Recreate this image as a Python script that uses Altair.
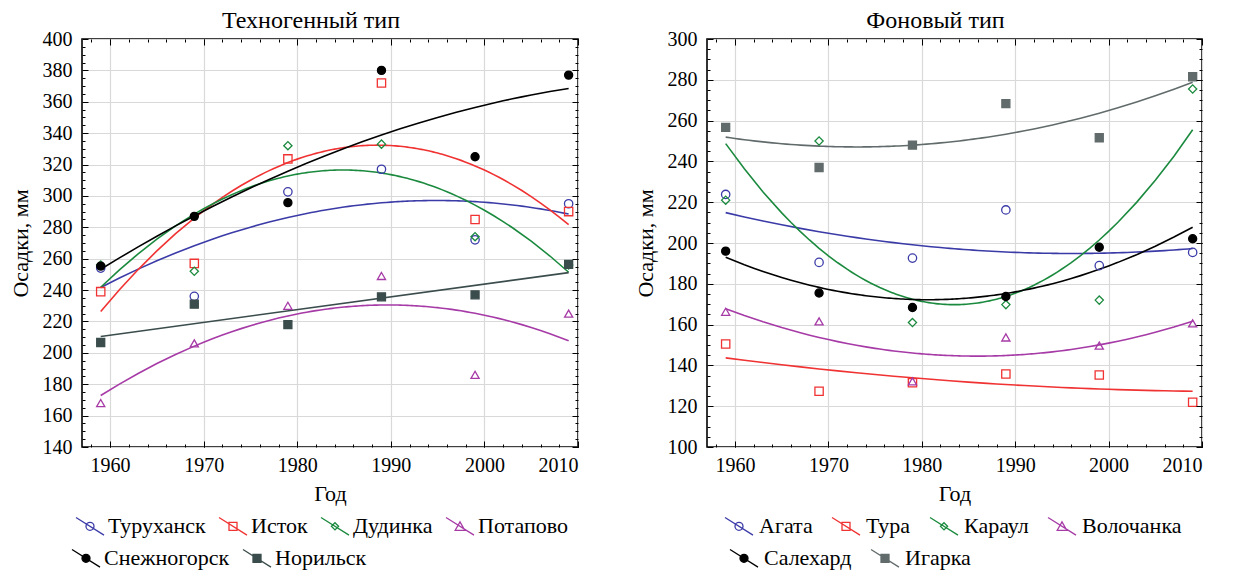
import altair as alt
import pandas as pd

years = [1959, 1969, 1979, 1989, 1999, 2009]

tech_stations = ["Туруханск", "Исток", "Дудинка", "Потапово", "Снежногорск", "Норильск"]
turukhansk = [254, 236, 302.6, 317, 272, 295]
istok = [239, 257, 323.6, 372, 285, 290]
dudinka = [256, 252, 332, 333, 274, 256]
potapovo = [168, 206, 230, 249, 186, 225]
snezhnogorsk = [255.3, 287, 295.7, 380, 325, 377]
norilsk = [206.6, 231, 218, 235.7, 237, 256.4]

bg_stations = ["Агата", "Тура", "Караул", "Волочанка", "Салехард", "Игарка"]
agata = [223.8, 190.5, 192.6, 216.2, 188.9, 195.4]
tura = [150.5, 127.3, 131.5, 135.8, 135.3, 121.9]
karaul = [221, 250, 161, 169.8, 172, 275.5]
volochanka = [166.3, 161.6, 132.2, 153.7, 149.7, 160.6]
salekhard = [196, 175.5, 168.4, 173.8, 197.9, 202.1]
igarka = [256.7, 237, 248, 268.3, 251.6, 281.5]

tech_colors = ["#3b3ba8", "#f03232", "#1b8a3e", "#a63aa6", "#000000", "#3b4c4c"]
bg_colors = ["#3b3ba8", "#f03232", "#1b8a3e", "#a63aa6", "#000000", "#626b6b"]

point_shapes = ["circle", "square", "diamond", "triangle-up", "circle", "square"]
point_sizes = [70, 64, 30, 60, 64, 70]

LINE = "M-3.5,-2.2L3.5,2.2"
legend_paths = [
    LINE + "M1,0A1,1,0,1,1,-1,0A1,1,0,1,1,1,0Z",
    LINE + "M-1,-1L1,-1L1,1L-1,1Z",
    LINE + "M0,-0.9L0.9,0L0,0.9L-0.9,0Z",
    LINE + "M0,-1.1L1.2,1L-1.2,1Z",
    LINE + "M1,0A1,1,0,1,1,-1,0A1,1,0,1,1,1,0Z",
    LINE + "M-1,-1L1,-1L1,1L-1,1Z",
]

FONT = "Liberation Serif, Times New Roman, DejaVu Serif, serif"
X_DOMAIN = [1957, 2010]
x_major = [1960, 1970, 1980, 1990, 2000, 2010]
x_minor = list(range(1958, 2011, 2))


def panel(stations, series, colors, title, ydom, leg_x1, leg_x2, lab_off, col_pad, width,
          linear=None):
    rows = []
    for s, vals in zip(stations, series):
        for yr, v in zip(years, vals):
            rows.append({"year": yr, "value": v, "station": s})
    df = pd.DataFrame(rows)
    fills = ["transparent"] * 4 + [colors[4], colors[5]]

    xscale = alt.Scale(domain=X_DOMAIN, nice=False, zero=False)
    yscale = alt.Scale(domain=ydom, nice=False, zero=False)
    y_major = list(range(ydom[0], ydom[1] + 1, 20))
    y_minor = list(range(ydom[0], ydom[1] + 1, 5))

    xaxis = alt.Axis(values=x_major, format="d", ticks=False, domain=False, grid=True,
                     gridColor="#d9d9d9", gridWidth=1.2, labelFontSize=20, labelColor="black",
                     labelPadding=8, title="Год", titleFontSize=22, titleFontWeight="normal",
                     titleColor="black", titlePadding=8, labelFont=FONT, titleFont=FONT)
    yaxis = alt.Axis(values=y_major, format="d", ticks=False, domain=False, grid=True,
                     gridColor="#d9d9d9", gridWidth=1.2, labelFontSize=20, labelColor="black",
                     labelPadding=10, title="Осадки, мм", titleFontSize=22,
                     titleFontWeight="normal", titleColor="black", titlePadding=10,
                     labelFont=FONT, titleFont=FONT)

    base = alt.Chart(df)
    X = alt.X("year:Q", scale=xscale, axis=xaxis)
    Y = alt.Y("value:Q", scale=yscale, axis=yaxis)
    col = alt.Color("station:N", scale=alt.Scale(domain=stations, range=colors), legend=None)

    quad_src = base
    if linear is not None:
        quad_src = base.transform_filter(alt.datum.station != linear)
    quad = quad_src.transform_regression(
        "year", "value", groupby=["station"], method="poly", order=2
    ).mark_line(strokeWidth=1.6).encode(x=X, y=Y, color=col)
    layers = [quad]
    if linear is not None:
        lin = base.transform_filter(alt.datum.station == linear).transform_regression(
            "year", "value", groupby=["station"], method="linear"
        ).mark_line(strokeWidth=1.6).encode(x=X, y=Y, color=col)
        layers.append(lin)

    pts = base.mark_point(opacity=1, strokeWidth=1.3).encode(
        x=X, y=Y,
        stroke=alt.Stroke("station:N", scale=alt.Scale(domain=stations, range=colors), legend=None),
        fill=alt.Fill("station:N", scale=alt.Scale(domain=stations, range=fills), legend=None),
        shape=alt.Shape("station:N", scale=alt.Scale(domain=stations, range=point_shapes), legend=None),
        size=alt.Size("station:N", scale=alt.Scale(domain=stations, range=point_sizes), legend=None),
    )
    layers.append(pts)

    def legend_layer(idx, lx, ly):
        dom = [stations[i] for i in idx]
        props = dict(orient="none", legendX=lx, legendY=ly, direction="horizontal",
                     title=None, labelFont=FONT, labelFontSize=22, labelColor="black",
                     symbolSize=64, symbolStrokeWidth=1.3, labelOffset=lab_off,
                     columnPadding=col_pad, padding=0, labelLimit=300)
        return base.transform_filter("false").mark_point(opacity=1, strokeWidth=1.3).encode(
            x=X, y=Y,
            stroke=alt.Stroke("station:N", scale=alt.Scale(domain=dom, range=[colors[i] for i in idx]),
                              legend=alt.Legend(**props)),
            fill=alt.Fill("station:N", scale=alt.Scale(domain=dom, range=[fills[i] for i in idx]),
                          legend=alt.Legend(**props)),
            shape=alt.Shape("station:N", scale=alt.Scale(domain=dom, range=[legend_paths[i] for i in idx]),
                            legend=alt.Legend(**props)),
        )

    layers.append(legend_layer([0, 1, 2, 3], leg_x1, 476))
    layers.append(legend_layer([4, 5], leg_x2, 508))

    inner = alt.layer(*layers).resolve_scale(
        color="independent", stroke="independent", fill="independent",
        shape="independent", size="independent"
    ).resolve_legend(color="independent", stroke="independent", fill="independent",
                     shape="independent", size="independent")

    def tick_layer(xo, yo, xv, yv, ts):
        common = dict(labels=False, domain=False, grid=False, ticks=True,
                      tickSize={"expr": str(-ts)}, tickColor="black", tickWidth=1,
                      title=None, minExtent=0, maxExtent=0, zindex=2)
        return base.transform_filter("false").mark_point().encode(
            x=alt.X("year:Q", scale=xscale, axis=alt.Axis(orient=xo, values=xv, **common)),
            y=alt.Y("value:Q", scale=yscale, axis=alt.Axis(orient=yo, values=yv, **common)),
        )

    t1 = tick_layer("bottom", "left", x_major, y_major, 6)
    t2 = tick_layer("bottom", "left", x_minor, y_minor, 3)
    t3 = tick_layer("top", "right", x_major, y_major, 6)
    t4 = tick_layer("top", "right", x_minor, y_minor, 3)

    return alt.layer(inner, t1, t2, t3, t4).resolve_scale(
        x="independent", y="independent"
    ).properties(
        width=width, height=408,
        title=alt.TitleParams(title, font=FONT, fontSize=24, fontWeight="normal", color="black",
                              anchor="middle", frame="group", offset=-4, dx=-19),
    )


left = panel(tech_stations, [turukhansk, istok, dudinka, potapovo, snezhnogorsk, norilsk],
             tech_colors, "Техногенный тип", [140, 400], -3, -7, 7, 10, 496, linear="Норильск")
right = panel(bg_stations, [agata, tura, karaul, volochanka, salekhard, igarka],
              bg_colors, "Фоновый тип", [100, 300], 21, 26, 9, 16, 495)

chart = alt.hconcat(left, right, spacing=53).resolve_scale(
    color="independent", stroke="independent", fill="independent",
    shape="independent", size="independent", x="independent", y="independent"
).properties(
    padding={"left": 0, "top": 0, "right": 5, "bottom": 0}
).configure(font=FONT).configure_view(stroke="black", strokeWidth=1.6)

chart.save("out.html", embed_options={"renderer": "svg", "actions": False})
